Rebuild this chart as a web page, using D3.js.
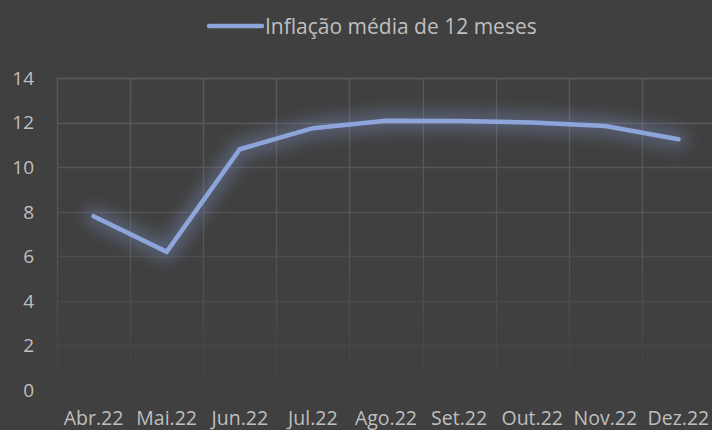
<!DOCTYPE html>
<meta charset="utf-8">
<script src="https://d3js.org/d3.v7.min.js"></script>
<style>
  body { margin: 0; background: #404040; }
  text { font-family: "Open Sans", sans-serif; }
</style>
<svg id="chart" width="712" height="430"></svg>
<script>

// Data
var months = ["Abr.22", "Mai.22", "Jun.22", "Jul.22", "Ago.22", "Set.22", "Out.22", "Nov.22", "Dez.22"];
var inflation = [7.8, 6.2, 10.8, 11.75, 12.08, 12.07, 12.0, 11.85, 11.25];
var yTicks = [0, 2, 4, 6, 8, 10, 12, 14];
var seriesName = "Inflação média de 12 meses";

var svg = d3.select("#chart"),
  width = +svg.attr("width"),
  height = +svg.attr("height");

svg.append("rect").attr("width", width).attr("height", height).attr("fill", "#404040");

var plotLeft = 57, plotRight = 715, plotTop = 78, plotBottom = 390;

var x = d3.scaleBand().domain(months).range([plotLeft, plotRight]).padding(0);
var y = d3.scaleLinear().domain([0, 14]).range([plotBottom, plotTop]);

var defs = svg.append("defs");
var glow = defs.append("filter").attr("id", "glow")
  .attr("x", "-20%").attr("y", "-60%").attr("width", "140%").attr("height", "220%");
glow.append("feGaussianBlur").attr("stdDeviation", 8);

var fade = defs.append("linearGradient").attr("id", "fade")
  .attr("gradientUnits", "userSpaceOnUse")
  .attr("x1", 0).attr("y1", plotTop).attr("x2", 0).attr("y2", plotBottom);
fade.append("stop").attr("offset", "0%").attr("stop-color", "#5a5a5a");
fade.append("stop").attr("offset", "55%").attr("stop-color", "#545454");
fade.append("stop").attr("offset", "100%").attr("stop-color", "#414141");

// horizontal gridlines
var fadeColor = d3.scaleLinear().domain([plotTop, plotBottom]).range(["#5c5c5c", "#434343"]);
svg.append("g").selectAll("line")
  .data(yTicks.filter(function (d) { return d > 0; }))
  .enter().append("line")
    .attr("x1", plotLeft).attr("x2", plotRight)
    .attr("y1", function (d) { return Math.round(y(d)) + 0.5; })
    .attr("y2", function (d) { return Math.round(y(d)) + 0.5; })
    .attr("stroke", function (d) { return fadeColor(y(d)); })
    .attr("stroke-width", 1.3);

// vertical gridlines at band edges
var edges = months.map(function (m) { return x(m); }).concat([plotRight]);
svg.append("g").selectAll("line")
  .data(edges)
  .enter().append("line")
    .attr("x1", function (d) { return Math.round(d) + 0.5; })
    .attr("x2", function (d) { return Math.round(d) + 0.5; })
    .attr("y1", plotTop).attr("y2", plotBottom)
    .attr("stroke", "url(#fade)")
    .attr("stroke-width", 1.3);

// y labels
svg.append("g").selectAll("text")
  .data(yTicks)
  .enter().append("text")
    .attr("x", 34)
    .attr("y", function (d) { return y(d); })
    .attr("dy", "0.36em")
    .attr("text-anchor", "end")
    .attr("font-size", 19)
    .attr("fill", "#bfbfbf")
    .text(function (d) { return d; });

// x labels
svg.append("g").selectAll("text")
  .data(months)
  .enter().append("text")
    .attr("x", function (d) { return x(d) + x.bandwidth() / 2; })
    .attr("y", 425)
    .attr("text-anchor", "middle")
    .attr("font-size", 19.5)
    .attr("fill", "#bfbfbf")
    .text(function (d) { return d; });

// line
var line = d3.line()
  .x(function (d, i) { return x(months[i]) + x.bandwidth() / 2; })
  .y(function (d) { return y(d); });

svg.append("path")
  .datum(inflation)
  .attr("d", line)
  .attr("fill", "none")
  .attr("stroke", "#7f93c9")
  .attr("stroke-opacity", 0.4)
  .attr("stroke-width", 18)
  .attr("stroke-linejoin", "round")
  .attr("stroke-linecap", "round")
  .attr("filter", "url(#glow)");

svg.append("path")
  .datum(inflation)
  .attr("d", line)
  .attr("fill", "none")
  .attr("stroke", "#8ea5dc")
  .attr("stroke-width", 4.5)
  .attr("stroke-linecap", "round");

// legend
var legend = svg.append("g");
legend.append("line")
  .attr("x1", 209).attr("x2", 262)
  .attr("y1", 26).attr("y2", 26)
  .attr("stroke", "#8ea5dc")
  .attr("stroke-width", 4.5)
  .attr("stroke-linecap", "round");
legend.append("text")
  .attr("x", 265).attr("y", 26)
  .attr("dy", "0.36em")
  .attr("font-size", 21)
  .attr("fill", "#bfbfbf")
  .text(seriesName);

</script>
